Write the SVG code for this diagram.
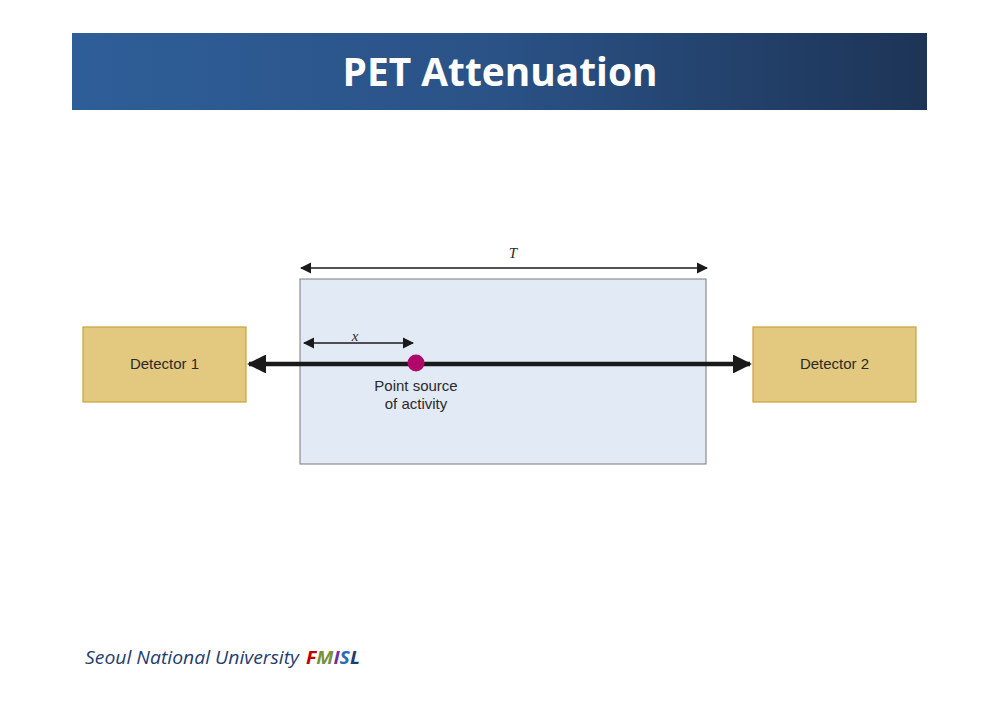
<svg xmlns="http://www.w3.org/2000/svg" width="1000" height="708" viewBox="0 0 1000 708">
<defs>
<linearGradient id="hdr" x1="0" y1="0" x2="1" y2="0">
<stop offset="0" stop-color="#2E5E98"/>
<stop offset="0.5" stop-color="#2A5286"/>
<stop offset="1" stop-color="#1D3456"/>
</linearGradient>
<marker id="bigArrow" viewBox="0 0 10 10" refX="9" refY="5" markerWidth="4.2" markerHeight="4.2" orient="auto-start-reverse" markerUnits="strokeWidth">
<path d="M0,0 L10,5 L0,10 Z" fill="#1a1a1a"/>
</marker>
<marker id="smallArrow" viewBox="0 0 10 10" refX="9" refY="5" markerWidth="7" markerHeight="7" orient="auto-start-reverse" markerUnits="strokeWidth">
<path d="M0,0 L10,5 L0,10 Z" fill="#1a1a1a"/>
</marker>
</defs>
<style>
.det{fill:#E3C880;stroke:#C9A33A;stroke-width:1.2}
.lbl{font-family:"Liberation Sans",Arial,sans-serif;font-size:15px;fill:#2a2a2a;text-anchor:middle}
.var{font-family:"Liberation Serif","Times New Roman",serif;font-style:italic;font-size:15px;fill:#2a2a2a;text-anchor:middle}
</style>
<rect width="1000" height="708" fill="#ffffff"/>
<g id="header">
<rect x="72" y="33" width="855" height="77" fill="url(#hdr)"/>
<text x="500" y="86" text-anchor="middle" font-family="'Open Sans',sans-serif" font-weight="bold" font-size="40" fill="#ffffff" textLength="315" lengthAdjust="spacingAndGlyphs">PET Attenuation</text>
</g>
<g id="phantom">
<rect x="300" y="279" width="406" height="185" fill="#E2EAF6" stroke="#7a7a7a" stroke-width="1"/>
</g>
<g id="detector1">
<rect class="det" x="83" y="327" width="163" height="75"/>
<text class="lbl" x="164.5" y="369">Detector 1</text>
</g>
<g id="detector2">
<rect class="det" x="753" y="327" width="163" height="75"/>
<text class="lbl" x="834.5" y="369">Detector 2</text>
</g>
<g id="connectors" stroke="#1a1a1a" fill="none">
<line x1="249" y1="364" x2="750" y2="364" stroke-width="4.5" marker-start="url(#bigArrow)" marker-end="url(#bigArrow)"/>
<line x1="301" y1="268" x2="707" y2="268" stroke-width="1.6" marker-start="url(#smallArrow)" marker-end="url(#smallArrow)"/>
<line x1="304" y1="343" x2="413" y2="343" stroke-width="1.6" marker-start="url(#smallArrow)" marker-end="url(#smallArrow)"/>
</g>
<g id="labels">
<text class="var" x="513" y="258">T</text>
<text class="var" x="355" y="341">x</text>
</g>
<g id="source">
<circle cx="416" cy="363" r="8.5" fill="#B0086A"/>
<text class="lbl" x="416" y="391">Point source</text>
<text class="lbl" x="416" y="409">of activity</text>
</g>
<g id="footer">
<text x="85" y="664" font-family="'Open Sans',sans-serif" font-style="italic" font-size="18" fill="#1F3D6E" textLength="214" lengthAdjust="spacingAndGlyphs">Seoul National University</text>
<text x="306" y="664" font-family="'Open Sans',sans-serif" font-style="italic" font-weight="bold" font-size="18" textLength="54" lengthAdjust="spacingAndGlyphs"><tspan fill="#C00000">F</tspan><tspan fill="#76923C">M</tspan><tspan fill="#7030A0">I</tspan><tspan fill="#2E6DB4">S</tspan><tspan fill="#1F3D6E">L</tspan></text>
</g>
</svg>
